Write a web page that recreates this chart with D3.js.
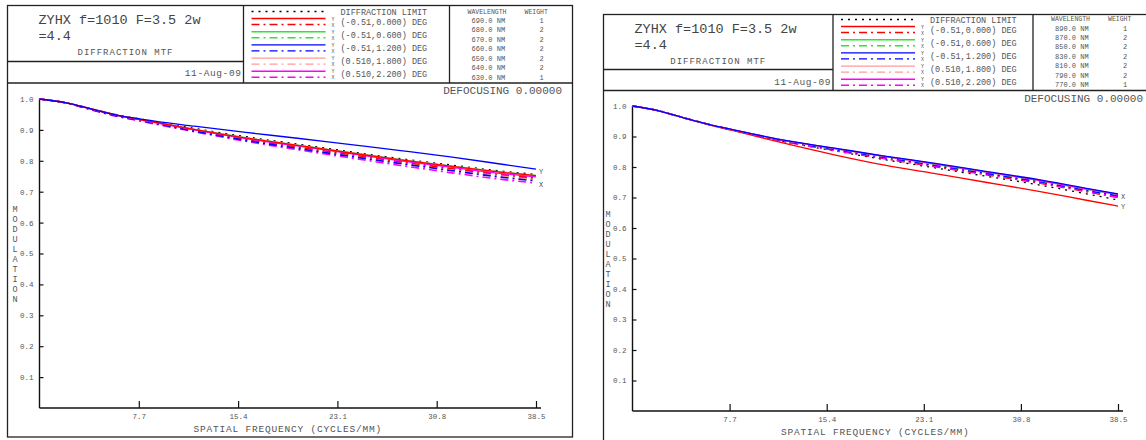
<!DOCTYPE html>
<html>
<head>
<meta charset="utf-8">
<script src="https://cdn.jsdelivr.net/npm/d3@7"></script>
<style>
  body { margin: 0; background: #fff; }
  svg { display: block; }
  text { font-family: "Liberation Mono", "Courier New", monospace; fill: #555; }
  .frame { fill: none; stroke: #222; stroke-width: 1.3; }
</style>
</head>
<body>
<div id="chart"></div>
<script>
// Datos
var freqs = [0, 2, 4, 6, 8, 12, 16, 20, 24, 28, 32, 36, 38.5];
var xTicks = [7.7, 15.4, 23.1, 30.8, 38.5];
var yTicks = [0.1, 0.2, 0.3, 0.4, 0.5, 0.6, 0.7, 0.8, 0.9, 1.0];

var fieldLabels = ["(-0.51,0.000) DEG", "(-0.51,0.600) DEG", "(-0.51,1.200) DEG", "(0.510,1.800) DEG", "(0.510,2.200) DEG"];
var fieldColors = ["#ff0000", "#33e033", "#0000ff", "#ff9a9a", "#ff00ff"];

var wavesLeft = ["690.0 NM", "680.0 NM", "670.0 NM", "660.0 NM", "650.0 NM", "640.0 NM", "630.0 NM"];
var wavesRight = ["890.0 NM", "870.0 NM", "850.0 NM", "830.0 NM", "810.0 NM", "790.0 NM", "770.0 NM"];
var weights = [1, 2, 2, 2, 2, 2, 1];

// Panel izquierdo: difracción + (Y, X) por campo
var diffLeft = [1, .989, .969, .949, .934, .905, .878, .854, .830, .807, .786, .766, .756];
var mtfLeftY = [
  [1, .988, .968, .948, .932, .902, .874, .850, .826, .803, .782, .762, .752],
  [1, .988, .968, .948, .932, .902, .875, .851, .827, .804, .783, .763, .753],
  [1, .988, .968, .948, .934, .912, .892, .873, .853, .833, .812, .788, .773],
  [1, .988, .968, .948, .932, .902, .874, .850, .826, .803, .782, .762, .751],
  [1, .988, .967, .947, .931, .900, .872, .848, .824, .800, .779, .758, .748]
];
var mtfLeftX = [
  [1, .988, .967, .946, .930, .899, .870, .845, .821, .797, .775, .755, .744],
  [1, .988, .967, .946, .930, .898, .869, .844, .819, .795, .773, .752, .741],
  [1, .988, .966, .945, .929, .896, .866, .840, .815, .791, .768, .746, .735],
  [1, .988, .966, .945, .929, .897, .868, .842, .817, .793, .771, .750, .738],
  [1, .987, .965, .944, .927, .894, .863, .836, .810, .785, .761, .739, .728]
];
var endLabelsLeft = [["Y", 0.765], ["X", 0.722]];

// Panel derecho
var diffRight = [1, .985, .962, .940, .921, .883, .853, .824, .797, .770, .743, .712, .692];
var mtfRightY = [
  [1, .985, .962, .939, .919, .878, .840, .806, .778, .750, .722, .691, .672],
  [1, .985, .962, .940, .922, .887, .860, .834, .809, .783, .757, .727, .709],
  [1, .985, .962, .940, .922, .888, .862, .836, .812, .786, .760, .730, .712],
  [1, .985, .962, .940, .922, .888, .861, .835, .811, .785, .759, .729, .711],
  [1, .985, .962, .940, .922, .887, .861, .835, .810, .784, .758, .728, .710]
];
var mtfRightX = [
  [1, .985, .962, .940, .921, .884, .855, .827, .801, .775, .749, .719, .700],
  [1, .985, .962, .940, .921, .885, .857, .830, .805, .779, .753, .723, .704],
  [1, .985, .962, .940, .921, .886, .858, .832, .806, .780, .754, .724, .706],
  [1, .985, .962, .940, .921, .885, .857, .831, .805, .779, .753, .723, .704],
  [1, .985, .962, .940, .921, .884, .855, .829, .803, .777, .751, .721, .702]
];
var endLabelsRight = [["X", 0.702], ["Y", 0.672]];

const W = 1146, H = 440;
const svg = d3.select("#chart").append("svg")
  .attr("width", W)
  .attr("height", H);

function drawPanel(cfg, diff, mY, mX, waves, endLabels) {
  const g = svg.append("g");
  const x0 = cfg.x, y0 = cfg.y;
  const lx = x0 + cfg.titleW, wx = lx + cfg.legW, hb = y0 + cfg.headH;

  // Marco y cabecera
  g.append("rect").attr("class", "frame")
    .attr("x", x0).attr("y", y0).attr("width", cfg.w).attr("height", cfg.h);
  g.append("line").attr("class", "frame").attr("x1", x0).attr("x2", x0 + cfg.w).attr("y1", hb).attr("y2", hb);
  g.append("line").attr("class", "frame").attr("x1", lx).attr("x2", lx).attr("y1", y0).attr("y2", hb);
  g.append("line").attr("class", "frame").attr("x1", wx).attr("x2", wx).attr("y1", y0).attr("y2", hb);
  g.append("line").attr("class", "frame").attr("x1", x0).attr("x2", lx).attr("y1", y0 + cfg.innerY).attr("y2", y0 + cfg.innerY);

  // Título
  g.append("text").attr("x", x0 + 31).attr("y", y0 + 18).style("font-size", "13.5px").style("fill", "#444")
    .text("ZYHX f=1010 F=3.5 2w");
  g.append("text").attr("x", x0 + 31).attr("y", y0 + 34).style("font-size", "13.5px").style("fill", "#444")
    .text("=4.4");
  g.append("text").attr("x", x0 + cfg.titleW / 2).attr("y", y0 + 49).style("font-size", "9px")
    .style("letter-spacing", "1px").style("text-anchor", "middle").text("DIFFRACTION MTF");
  g.append("text").attr("x", x0 + cfg.titleW - 2).attr("y", y0 + 70).style("font-size", "9.5px")
    .style("letter-spacing", "0.6px").style("text-anchor", "end").text("11-Aug-09");

  // Leyenda
  const ly = y0 + cfg.legTop;
  g.append("line").attr("x1", lx + 8).attr("x2", lx + 82).attr("y1", ly - 7).attr("y2", ly - 7)
    .attr("stroke", "#000").attr("stroke-width", 1.3).attr("stroke-dasharray", "2,5");
  g.append("text").attr("x", lx + 97).attr("y", ly - 4).style("font-size", "8.5px").text("DIFFRACTION LIMIT");
  fieldLabels.forEach((lab, i) => {
    const ry = ly + 13.2 * i;
    g.append("line").attr("x1", lx + 8).attr("x2", lx + 82).attr("y1", ry).attr("y2", ry)
      .attr("stroke", fieldColors[i]).attr("stroke-width", 1.4);
    g.append("line").attr("x1", lx + 8).attr("x2", lx + 82).attr("y1", ry + 6).attr("y2", ry + 6)
      .attr("stroke", fieldColors[i]).attr("stroke-width", 1.4).attr("stroke-dasharray", "8,4,2,4");
    g.append("text").attr("x", lx + 88).attr("y", ry + 2).style("font-size", "5px").text("Y");
    g.append("text").attr("x", lx + 88).attr("y", ry + 8).style("font-size", "5px").text("X");
    g.append("text").attr("x", lx + 97).attr("y", ry + 6).style("font-size", "8.5px").text(lab);
  });

  // Longitudes de onda
  g.append("text").attr("x", wx + 18).attr("y", y0 + cfg.waveHead).style("font-size", "6.5px").text("WAVELENGTH");
  g.append("text").attr("x", wx + 75).attr("y", y0 + cfg.waveHead).style("font-size", "6.5px").text("WEIGHT");
  waves.forEach((wl, i) => {
    const ry = y0 + cfg.waveTop + cfg.waveStep * i;
    g.append("text").attr("x", wx + 22).attr("y", ry).style("font-size", "7px").text(wl);
    g.append("text").attr("x", wx + 92).attr("y", ry).style("font-size", "7px")
      .style("text-anchor", "middle").text(weights[i]);
  });

  g.append("text").attr("x", cfg.defX).attr("y", hb + 11).style("font-size", "11px")
    .style("text-anchor", "end").text("DEFOCUSING 0.00000");

  // Escalas
  const xScale = d3.scaleLinear().domain([0, 38.5]).range([cfg.plotL, cfg.plotR]);
  const yScale = d3.scaleLinear().domain([0, 1]).range([cfg.plotB, cfg.plotT]);

  // Ejes
  const xAxis = d3.axisBottom(xScale).tickValues(xTicks).tickSize(-7).tickPadding(6)
    .tickSizeOuter(0).tickFormat(d3.format(".1f"));
  const yAxis = d3.axisLeft(yScale).tickValues(yTicks).tickSize(-4).tickPadding(6)
    .tickSizeOuter(0).tickFormat(d3.format(".1f"));

  const gx = g.append("g").attr("transform", `translate(0,${cfg.plotB})`).call(xAxis);
  const gy = g.append("g").attr("transform", `translate(${cfg.plotL},0)`).call(yAxis);
  [gx, gy].forEach(a => {
    a.select(".domain").remove();
    a.selectAll(".tick line").attr("stroke", "#111").attr("stroke-width", 1.2);
    a.selectAll(".tick text").style("font-size", "7.5px").attr("fill", "#666")
      .style("font-family", "Liberation Mono, monospace");
  });
  g.append("line").attr("x1", cfg.plotL).attr("x2", cfg.plotR + 5).attr("y1", cfg.plotB).attr("y2", cfg.plotB)
    .attr("stroke", "#111").attr("stroke-width", 1.4);
  g.append("line").attr("x1", cfg.plotL).attr("x2", cfg.plotL).attr("y1", cfg.plotB).attr("y2", yScale(1))
    .attr("stroke", "#111").attr("stroke-width", 1.4);

  g.append("text").attr("x", (cfg.plotL + cfg.plotR) / 2).attr("y", cfg.plotB + 24)
    .style("font-size", "9.5px").style("letter-spacing", "0.8px").style("text-anchor", "middle")
    .text("SPATIAL FREQUENCY (CYCLES/MM)");

  "MODULATION".split("").forEach((ch, i) => {
    g.append("text").attr("x", cfg.modX).attr("y", (cfg.plotT + cfg.plotB) / 2 - 45 + i * 10 + 3)
      .style("font-size", "8.5px").style("text-anchor", "middle").text(ch);
  });

  // Curvas
  const line = d3.line()
    .x((d, i) => xScale(freqs[i]))
    .y(d => yScale(d))
    .curve(d3.curveMonotoneX);

  g.append("path").datum(diff).attr("d", line).attr("fill", "none")
    .attr("stroke", "#000").attr("stroke-width", 1.3).attr("stroke-dasharray", "2,5");
  cfg.order.forEach(i => {
    g.append("path").datum(mX[i]).attr("d", line).attr("fill", "none")
      .attr("stroke", fieldColors[i]).attr("stroke-width", 1.6).attr("stroke-dasharray", "8,4,2,4");
  });
  cfg.order.forEach(i => {
    g.append("path").datum(mY[i]).attr("d", line).attr("fill", "none")
      .attr("stroke", fieldColors[i]).attr("stroke-width", 1.3);
  });

  endLabels.forEach(e => {
    g.append("text").attr("x", cfg.plotR + 3).attr("y", yScale(e[1]) + 2.5)
      .style("font-size", "7px").text(e[0]);
  });
}

drawPanel({ x: 7.5, y: 5.5, w: 565, h: 431.5, headH: 77.5, titleW: 236, legW: 206, innerY: 56,
  legTop: 13, waveHead: 8, waveTop: 17, waveStep: 9.5, order: [1, 3, 4, 0, 2],
  plotL: 39.5, plotR: 536, plotT: 99, plotB: 408, modX: 15, defX: 562 },
  diffLeft, mtfLeftY, mtfLeftX, wavesLeft, endLabelsLeft);

drawPanel({ x: 603.5, y: 14.5, w: 550, h: 440, headH: 76, titleW: 229.5, legW: 200, innerY: 55,
  legTop: 12, waveHead: 6.5, waveTop: 16, waveStep: 9.4, order: [0, 1, 3, 4, 2],
  plotL: 632.5, plotR: 1118, plotT: 106, plotB: 411, modX: 608, defX: 1143 },
  diffRight, mtfRightY, mtfRightX, wavesRight, endLabelsRight);
</script>
</body>
</html>
